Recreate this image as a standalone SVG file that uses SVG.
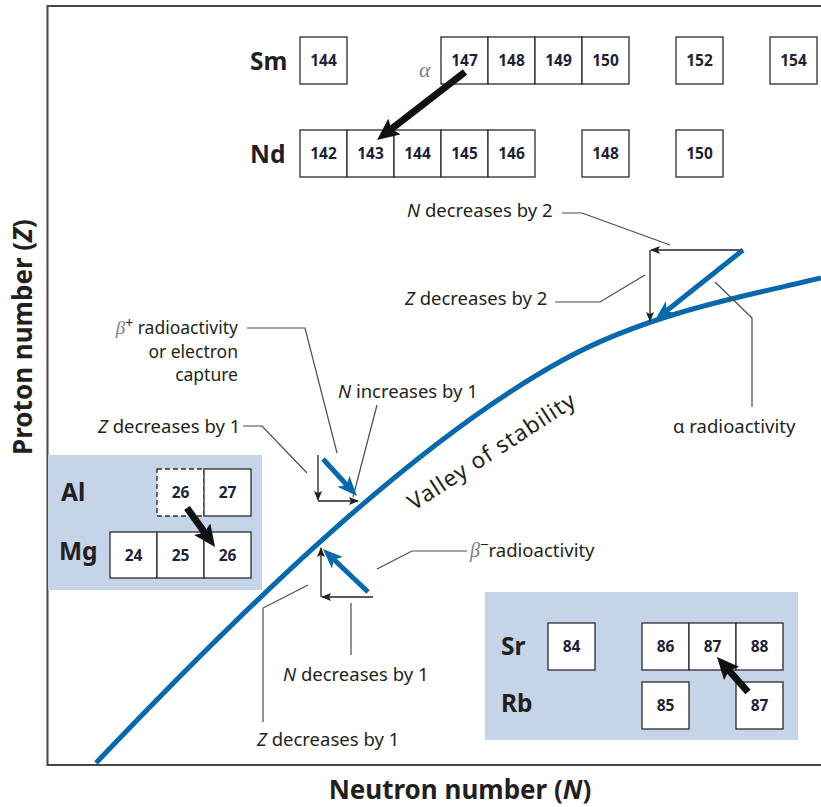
<svg xmlns="http://www.w3.org/2000/svg" width="821" height="807" viewBox="0 0 821 807">
<defs>
<style>
.box{fill:#fff;stroke:#2b2b2b;stroke-width:1.3}
.dash{stroke-dasharray:5,3}
.num{font-family:"Noto Sans","Open Sans",sans-serif;font-weight:bold;font-size:15.5px;fill:#1f1f3a;text-anchor:middle}
.el{font-family:"Noto Sans","Open Sans",sans-serif;font-weight:bold;font-size:24.5px;fill:#231f20}
.lbl{font-family:"Noto Sans","Open Sans",sans-serif;font-size:18.5px;fill:#231f20}
.lbs{font-family:"Noto Sans","Open Sans",sans-serif;font-size:17.5px;fill:#231f20;text-anchor:end}
.valley{font-family:"Noto Sans","Open Sans",sans-serif;font-size:22.5px;letter-spacing:1px;fill:#231f20}
.ax{font-family:"Noto Sans","Open Sans",sans-serif;font-weight:bold;font-size:26px;fill:#231f20;text-anchor:middle}
.it{font-style:italic}
.greek{font-family:"Liberation Serif","DejaVu Serif",serif;font-style:italic;fill:#7d7d85}
.lead{fill:none;stroke:#4a4a4a;stroke-width:1.2}
.thin{fill:none;stroke:#222;stroke-width:1.3;marker-end:url(#th)}
.blue{fill:none;stroke:#0868ac;stroke-width:5;marker-end:url(#bh)}
.black{fill:none;stroke:#111;stroke-width:7;marker-end:url(#kh)}
.panel{fill:#c5d4e9}
</style>
<marker id="th" markerUnits="userSpaceOnUse" viewBox="0 0 10 8" markerWidth="10" markerHeight="8" refX="9" refY="4" orient="auto"><path d="M0,0 L10,4 L0,8 L2,4 z" fill="#222"/></marker>
<marker id="bh" markerUnits="userSpaceOnUse" viewBox="0 0 20 16" markerWidth="20" markerHeight="16" refX="6" refY="8" orient="auto"><path d="M0,0 L20,8 L0,16 L5,8 z" fill="#0868ac"/></marker>
<marker id="kh" markerUnits="userSpaceOnUse" viewBox="0 0 22 20" markerWidth="22" markerHeight="20" refX="6" refY="10" orient="auto"><path d="M0,0 L22,10 L0,20 L4,10 z" fill="#111"/></marker>
</defs>
<rect width="821" height="807" fill="#fff"/>

<g id="frame">
<path d="M821,6 H47.5 V765 H821" fill="none" stroke="#444" stroke-width="2"/>
<text class="ax" x="460" y="799">Neutron number (<tspan class="it">N</tspan>)</text>
<text class="ax" transform="translate(32,337) rotate(-90)">Proton number (<tspan class="it">Z</tspan>)</text>
</g>

<g id="panels">
<rect class="panel" x="48" y="455" width="214" height="135"/>
<rect class="panel" x="485" y="592" width="313" height="148"/>
</g>

<g id="valley">
<path d="M96,763 C246,605.5 413,442.5 563,360 C653,310.5 761,293 821,278" fill="none" stroke="#0868ac" stroke-width="5"/>
<text class="valley" transform="translate(414,511) rotate(-33)">Valley of stability</text>
</g>

<g id="sm-row">
<text class="el" x="250" y="70">Sm</text>
<rect class="box" x="300" y="37" width="47" height="47"/><text class="num" x="323.5" y="66">144</text>
<rect class="box" x="441" y="37" width="47" height="47"/><text class="num" x="464.5" y="66">147</text>
<rect class="box" x="488" y="37" width="47" height="47"/><text class="num" x="511.5" y="66">148</text>
<rect class="box" x="535" y="37" width="47" height="47"/><text class="num" x="558.5" y="66">149</text>
<rect class="box" x="582" y="37" width="47" height="47"/><text class="num" x="605.5" y="66">150</text>
<rect class="box" x="676" y="37" width="47" height="47"/><text class="num" x="699.5" y="66">152</text>
<rect class="box" x="770" y="37" width="47" height="47"/><text class="num" x="793.5" y="66">154</text>
</g>

<g id="nd-row">
<text class="el" x="250" y="163">Nd</text>
<rect class="box" x="300" y="130" width="47" height="47"/><text class="num" x="323.5" y="159">142</text>
<rect class="box" x="347" y="130" width="47" height="47"/><text class="num" x="370.5" y="159">143</text>
<rect class="box" x="394" y="130" width="47" height="47"/><text class="num" x="417.5" y="159">144</text>
<rect class="box" x="441" y="130" width="47" height="47"/><text class="num" x="464.5" y="159">145</text>
<rect class="box" x="488" y="130" width="47" height="47"/><text class="num" x="511.5" y="159">146</text>
<rect class="box" x="582" y="130" width="47" height="47"/><text class="num" x="605.5" y="159">148</text>
<rect class="box" x="676" y="130" width="47" height="47"/><text class="num" x="699.5" y="159">150</text>
</g>

<g id="al-mg">
<text class="el" x="61" y="501">Al</text>
<text class="el" x="59" y="560">Mg</text>
<rect class="box dash" x="157" y="469" width="47" height="47"/><text class="num" x="180.5" y="498">26</text>
<rect class="box" x="204" y="469" width="47" height="47"/><text class="num" x="227.5" y="498">27</text>
<rect class="box" x="110" y="532" width="47" height="46"/><text class="num" x="133.5" y="561">24</text>
<rect class="box" x="157" y="532" width="47" height="46"/><text class="num" x="180.5" y="561">25</text>
<rect class="box" x="204" y="532" width="47" height="46"/><text class="num" x="227.5" y="561">26</text>
</g>

<g id="sr-rb">
<text class="el" x="501" y="655">Sr</text>
<text class="el" x="501" y="712">Rb</text>
<rect class="box" x="548" y="623" width="47" height="47"/><text class="num" x="571.5" y="652">84</text>
<rect class="box" x="642" y="623" width="47" height="47"/><text class="num" x="665.5" y="652">86</text>
<rect class="box" x="689" y="623" width="47" height="47"/><text class="num" x="712.5" y="652">87</text>
<rect class="box" x="736" y="623" width="47" height="47"/><text class="num" x="759.5" y="652">88</text>
<rect class="box" x="642" y="682" width="47" height="47"/><text class="num" x="665.5" y="711">85</text>
<rect class="box" x="736" y="682" width="47" height="47"/><text class="num" x="759.5" y="711">87</text>
</g>

<g id="labels">
<text class="greek" x="419" y="77" font-size="22" fill="#4e5d80">α</text>
<text class="lbl" x="407" y="217"><tspan class="it">N</tspan> decreases by 2</text>
<text class="lbl" x="405" y="305"><tspan class="it">Z</tspan> decreases by 2</text>
<text class="lbl" x="673" y="433">α radioactivity</text>
<text class="lbl" x="338" y="398"><tspan class="it">N</tspan> increases by 1</text>
<text class="lbl" x="98" y="433"><tspan class="it">Z</tspan> decreases by 1</text>
<text class="lbs" x="238" y="334"><tspan class="greek" font-size="19">β</tspan><tspan dy="-6" font-size="14">+</tspan><tspan dy="6"> radioactivity</tspan></text>
<text class="lbs" x="238" y="357.5">or electron</text>
<text class="lbs" x="238" y="381">capture</text>
<text class="lbl" x="470" y="557"><tspan class="greek" font-size="20">β</tspan><tspan dy="-7" font-size="15">−</tspan><tspan dy="7">radioactivity</tspan></text>
<text class="lbl" x="283" y="681"><tspan class="it">N</tspan> decreases by 1</text>
<text class="lbl" x="257" y="746"><tspan class="it">Z</tspan> decreases by 1</text>
</g>

<g id="connectors">
<path class="lead" d="M562,213 H582 L670,245"/>
<path class="lead" d="M555,302 H600 L645,275"/>
<path class="lead" d="M715,282 L752,318 V407"/>
<path class="lead" d="M247,328 H305 L337,453"/>
<path class="lead" d="M377,405 L353,497"/>
<path class="lead" d="M243,426 H262 L307,473"/>
<path class="lead" d="M377,569 L412,551 H467"/>
<path class="lead" d="M351,603 V655"/>
<path class="lead" d="M308,585 L263,608 V722"/>

<line class="thin" x1="743" y1="250" x2="651" y2="250"/>
<line class="thin" x1="650" y1="250" x2="650" y2="321"/>
<line class="thin" x1="318" y1="455" x2="318" y2="500"/>
<line class="thin" x1="318" y1="501" x2="358" y2="501"/>
<line class="thin" x1="321" y1="597" x2="321" y2="548"/>
<line class="thin" x1="373" y1="597" x2="322" y2="597"/>

<line class="blue" x1="743" y1="250" x2="666" y2="311.3"/>
<line class="blue" x1="323" y1="459" x2="347.5" y2="485.7"/>
<line class="blue" x1="368" y1="592" x2="333.1" y2="558.7"/>

<line class="black" x1="465" y1="72" x2="389.7" y2="130.2"/>
<line class="black" x1="187" y1="508" x2="205.7" y2="534"/>
<line class="black" x1="748" y1="692" x2="727.6" y2="669"/>
</g>
</svg>
